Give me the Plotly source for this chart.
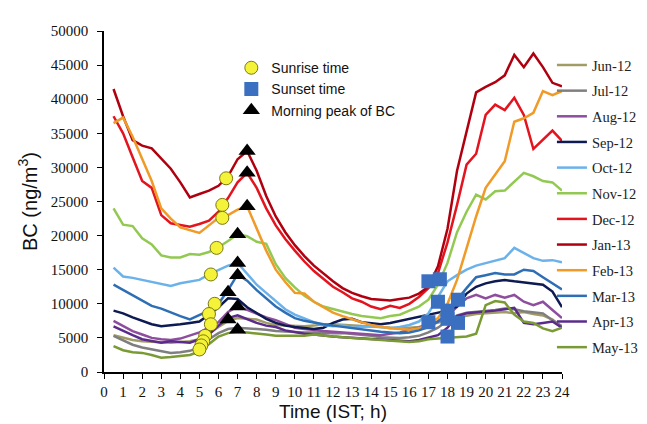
import plotly.graph_objects as go

hours = [0.5 * (i + 1) for i in range(48)]

months = ["Jun-12", "Jul-12", "Aug-12", "Sep-12", "Oct-12", "Nov-12",
          "Dec-12", "Jan-13", "Feb-13", "Mar-13", "Apr-13", "May-13"]

jun12 = [5400, 5000, 4700, 4500, 4400, 4300, 4300, 4400, 4500, 4800, 5600, 6600,
         7500, 7900, 7800, 7700, 7200, 6900, 6800, 6700, 6700, 6800, 7000, 7000,
         6900, 6900, 6800, 6600, 6500, 6400, 6400, 6500, 6600, 6900, 7200, 7600,
         8000, 8300, 8500, 8600, 8700, 8800, 8600, 8800, 8500, 8300, 7700, 6500]
jul12 = [5300, 4600, 4000, 3600, 3300, 3100, 2800, 2900, 3100, 3600, 4800, 5700,
         6300, 6500, 6400, 6400, 6200, 6000, 5900, 5800, 5800, 5800, 5700, 5700,
         5700, 5600, 5500, 5300, 5100, 5000, 5000, 5100, 5300, 5800, 6500, 7500,
         8300, 8700, 8800, 9000, 9100, 9300, 9200, 8900, 8800, 8600, 7600, 6700]
aug12 = [7500, 6800, 6000, 5500, 5000, 4800, 4700, 4900, 5300, 5800, 6500, 7300,
         8800, 9600, 9100, 8500, 8000, 7600, 7000, 6500, 6300, 6100, 6000, 5900,
         5800, 5700, 5600, 5500, 5400, 5600, 5800, 6200, 6500, 7000, 7400, 8300,
         9600, 10800, 11300, 10800, 11300, 10900, 11300, 10300, 9800, 10300, 9100, 7900]
sep12 = [9000, 8600, 8000, 7500, 7000, 6700, 6800, 7000, 7200, 7400, 8400, 9500,
         10800, 10700, 9500, 8600, 7800, 7200, 6800, 6600, 6400, 6300, 6500, 7200,
         7700, 7800, 7300, 7200, 7000, 7200, 7500, 7700, 8000, 8300, 8700, 9000,
         9600, 11500, 12500, 13000, 13300, 13500, 13300, 13100, 12900, 12800, 11800, 9500]
oct12 = [15300, 14000, 13800, 13500, 13300, 13000, 12600, 13000, 13300, 13500, 14300, 14900,
         15600, 16000, 14400, 12800, 11600, 10400, 9200, 8400, 7800, 7300, 6900, 6700,
         6800, 6500, 6600, 6700, 6600, 6400, 6600, 6900, 7400, 8600, 11000, 13300,
         14200, 15000, 15600, 16000, 16300, 16700, 18200, 17400, 16700, 16300, 16400, 16100]
nov12 = [24000, 21600, 21400, 19600, 18700, 17100, 16800, 16800, 17300, 17200, 17600, 18300,
         19200, 20200, 19900, 19100, 18800, 15800, 13800, 12400, 11200, 10300, 9600, 9200,
         8800, 8500, 8200, 8000, 7900, 8200, 8400, 9000, 9600, 10600, 12800, 16000,
         20500, 23500, 26000, 25300, 26500, 26600, 27900, 29200, 28700, 28000, 27800, 26600]
dec12 = [37500, 35000, 31500, 28000, 27000, 23000, 21800, 21600, 21300, 21700, 22200, 23500,
         25500, 27800, 29200, 27000, 24000, 21500, 19500, 17800, 16200, 14800, 13600, 12500,
         11700, 10800, 10300, 9600, 9200, 9700, 9400, 10000, 11000, 12300, 14500, 19000,
         24500, 30400, 32000, 37700, 39200, 38400, 40200, 37700, 32700, 34000, 35400, 33900]
jan13 = [41500, 37500, 34000, 33200, 32800, 31300, 29800, 27800, 25600, 26100, 26600, 27300,
         28700, 31200, 32400, 29500, 25800, 22800, 20500, 18600, 17000, 15600, 14400, 13300,
         12300, 11600, 11100, 10700, 10600, 10500, 10700, 10900, 11500, 12500, 15500, 21000,
         29500, 35300, 41000, 41800, 42500, 43500, 46500, 44700, 46700, 44700, 42400, 41900]
feb13 = [36500, 37300, 34500, 31300, 28000, 24000, 22500, 21200, 20800, 20400, 21500, 22600,
         23000, 23800, 24300, 21000, 17800, 15000, 13200, 11600, 11500, 10300, 9500, 8700,
         8200, 7700, 7300, 6900, 6600, 6400, 6300, 6200, 6400, 7000, 7900, 10000,
         13500, 18200, 22800, 27000, 29000, 30900, 36700, 37200, 38000, 41200, 40600, 41200]
mar13 = [12800, 12000, 11200, 10400, 9700, 9300, 8700, 8200, 7700, 8300, 9000, 10000,
         12000, 14300, 13400, 12000, 10800, 9600, 8700, 7900, 7500, 7200, 7000, 6800,
         6600, 6400, 6200, 6000, 5900, 5800, 5700, 5800, 6100, 6600, 7400, 8600,
         10600, 12300, 13900, 14200, 14500, 14300, 14300, 15000, 14800, 13900, 13000, 12100]
apr13 = [6700, 6000, 5400, 4800, 4500, 4300, 4500, 4400, 4300, 4800, 5500, 6800,
         7900, 8300, 7700, 7200, 6800, 6600, 6100, 5800, 5600, 5500, 5300, 5200,
         5100, 5000, 4900, 4800, 4700, 4600, 4500, 4500, 4700, 5000, 5400, 6500,
         8200, 8600, 8700, 8900, 9000, 9200, 9400, 7200, 7000, 7200, 7400, 6500]
may13 = [3800, 3200, 2900, 2800, 2500, 2100, 2200, 2400, 2500, 3000, 4100, 5200,
         5700, 5900, 5800, 5700, 5500, 5300, 5300, 5400, 5300, 5500, 5300, 5200,
         5100, 5000, 4900, 4700, 4600, 4500, 4400, 4400, 4500, 4800, 4900, 5000,
         5100, 5200, 5600, 9800, 10400, 10200, 8400, 7400, 7200, 6400, 6000, 6500]

series = [jun12, jul12, aug12, sep12, oct12, nov12, dec12, jan13, feb13, mar13, apr13, may13]
colors = ["#A19C66", "#7F7F7F", "#8E4E9E", "#0E1A52", "#6CB2EA", "#93C952",
          "#E3141E", "#B0000F", "#F09A28", "#2E6EB4", "#5B2B8C", "#7A9A34"]

sunrise_t = [6.4, 6.2, 6.2, 5.9, 5.6, 5.8, 5.5, 5.6, 5.3, 5.2, 5.1, 5.0]
sunrise_v = [28400, 24500, 22600, 18200, 14300, 10000, 8500, 7000, 5300, 4500, 3900, 3300]

sunset_t = [17.0, 17.6, 17.5, 18.55, 18.0, 17.0, 18.0, 18.55, 18.0]
sunset_v = [13300, 13600, 10300, 10600, 9000, 7300, 7800, 7200, 5200]

peak_t = [7.5, 7.5, 7.5, 7.0, 7.0, 7.0, 6.5, 7.0, 6.5, 7.0]
peak_v = [32400, 29200, 24300, 20200, 16000, 14200, 11700, 9600, 7700, 6200]

fig = go.Figure()

for i, (name, vals, col) in enumerate(zip(months, series, colors)):
    fig.add_trace(go.Scatter(
        x=hours, y=vals, mode="lines", name=name,
        line=dict(color=col, width=2.5),
        legend="legend", legendgroup=name,
    ))

fig.add_trace(go.Scatter(
    x=sunrise_t, y=sunrise_v, mode="markers", name="Sunrise time",
    marker=dict(symbol="circle", size=13, color="#F5F23A",
                line=dict(color="#7A7A10", width=1)),
    legend="legend2",
))
fig.add_trace(go.Scatter(
    x=sunset_t, y=sunset_v, mode="markers", name="Sunset time",
    marker=dict(symbol="square", size=14, color="#3B70C0",
                line=dict(color="#3B70C0", width=0)),
    legend="legend2",
))
fig.add_trace(go.Scatter(
    x=peak_t, y=peak_v, mode="markers", name="Morning peak of BC",
    marker=dict(symbol="triangle-up", size=15, color="#000000"),
    legend="legend2",
))

serif = "Liberation Serif, Times New Roman, serif"
sans = "Liberation Sans, Arial, sans-serif"

fig.update_layout(
    width=647, height=424,
    margin=dict(l=96, r=93, t=23, b=60, autoexpand=False),
    paper_bgcolor="white", plot_bgcolor="white",
    showlegend=True,
    legend=dict(
        x=0.978, xanchor="left", y=0.947, yanchor="top",
        font=dict(family=serif, size=14.5, color="#222"),
        tracegroupgap=3.8, itemwidth=30, maxheight=1,
        borderwidth=0,
        bgcolor="rgba(0,0,0,0)",
    ),
    legend2=dict(
        x=0.278, xanchor="left", y=0.938, yanchor="top",
        font=dict(family=sans, size=14, color="#111"),
        tracegroupgap=0,
        bgcolor="rgba(0,0,0,0)",
    ),
    xaxis=dict(
        range=[0, 24], tickmode="linear", tick0=0, dtick=1,
        showgrid=False, zeroline=False,
        showline=True, linecolor="black", linewidth=1.5,
        ticks="outside", ticklen=5, tickcolor="black",
        tickfont=dict(family=serif, size=15, color="#111"),
        title=dict(text="Time (IST; h)", font=dict(family=sans, size=19, color="#111"),
                   standoff=6),
    ),
    yaxis=dict(
        range=[0, 50000], tickmode="linear", tick0=0, dtick=5000,
        tickformat="d",
        showgrid=False, zeroline=False,
        showline=True, linecolor="black", linewidth=1.5,
        ticks="outside", ticklen=5, tickcolor="black",
        ticklabelstandoff=6,
        tickfont=dict(family=serif, size=15, color="#111"),
        title=dict(text="BC (ng/m<sup>3</sup>)", font=dict(family=sans, size=20, color="#111"),
                   standoff=8),
    ),
)

fig.write_html("out.html")
